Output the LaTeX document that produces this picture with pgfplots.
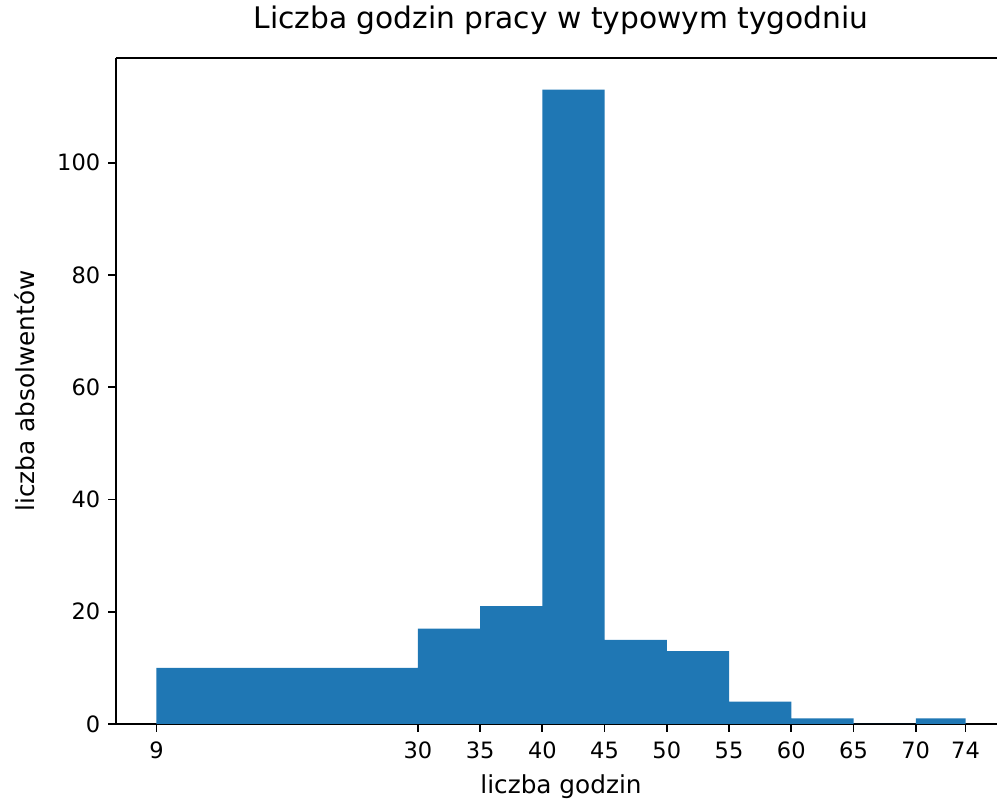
\documentclass[border=0pt]{standalone}
\usepackage{pgfplots}
\pgfplotsset{compat=1.18}
\usepackage{fontspec}
\setmainfont{DejaVu Sans}
\definecolor{mplblue}{HTML}{1F77B4}

% one pixel of the reference, in pt
\newlength{\px}
\setlength{\px}{0.4444pt}

\begin{document}
\begin{tikzpicture}
\begin{axis}[
    name=ax,
    scale only axis,
    width=890\px,
    height=666\px,
    axis x line*=box,
    axis y line*=left,
    xmin=5.75, xmax=77.25,
    ymin=0, ymax=118.65,
    xtick={9,30,35,40,45,50,55,60,65,70,74},
    ytick={0,20,40,60,80,100},
    tick pos=left,
    tick align=outside,
    major tick length=3.5pt,
    every tick/.style={black, line width=0.8pt},
    axis line style={line width=0.8pt},
    tick label style={font=\fontsize{10}{12}\selectfont},
    /pgf/number format/assume math mode=true,
    xticklabel style={yshift=-1pt},
    title={Liczba godzin pracy w typowym tygodniu},
    title style={font=\fontsize{13.2}{15}\selectfont, yshift=0.7pt},
    xlabel={liczba godzin},
    ylabel={liczba absolwentów},
    ylabel shift=3pt,
    label style={font=\fontsize{11}{13}\selectfont},
]
\addplot[ybar interval, fill=mplblue, draw=none] coordinates {
    (9,10) (30,17) (35,21) (40,113) (45,15) (50,13)
    (55,4) (60,1) (65,0) (70,1) (74,1)
};
\end{axis}
% the reference image is cut off just before the right spine
\pgfresetboundingbox
\path[use as bounding box] ([xshift=-116\px, yshift=-78\px]ax.south west)
    rectangle ([xshift=-9\px, yshift=58\px]ax.north east);
\end{tikzpicture}
\end{document}
